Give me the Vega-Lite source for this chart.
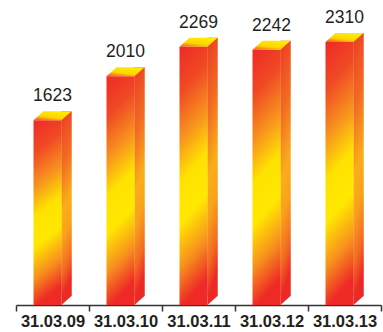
{
  "$schema": "https://vega.github.io/schema/vega-lite/v6.json",
  "width": 365,
  "height": 305,
  "autosize": "none",
  "padding": {"left": 16, "top": 0, "right": 2, "bottom": 27},
  "background": "white",
  "config": {"view": {"stroke": null}},
  "data": {
    "values": [
      {"date": "31.03.09", "value": 1623},
      {"date": "31.03.10", "value": 2010},
      {"date": "31.03.11", "value": 2269},
      {"date": "31.03.12", "value": 2242},
      {"date": "31.03.13", "value": 2310}
    ]
  },
  "encoding": {
    "x": {
      "field": "date",
      "type": "ordinal",
      "sort": null,
      "scale": {"paddingInner": 0, "paddingOuter": 0},
      "axis": {
        "title": null,
        "tickBand": "extent",
        "labelAngle": 0,
        "labelFont": "Liberation Sans",
        "labelFontWeight": "bold",
        "labelFontSize": 16.5,
        "labelColor": "#231F20",
        "labelPadding": 2,
        "domainColor": "#333333",
        "domainWidth": 1.5,
        "tickColor": "#333333",
        "tickWidth": 1.5,
        "tickSize": 6
      }
    },
    "y": {
      "field": "value",
      "type": "quantitative",
      "scale": {"domain": [0, 2680]},
      "axis": null
    }
  },
  "layer": [
    {
      "mark": {
        "type": "bar",
        "width": 10.5,
        "xOffset": 14,
        "yOffset": -9,
        "y2Offset": -9,
        "fill": {
          "gradient": "linear",
          "x1": 0, "y1": 0, "x2": 0.12, "y2": 1,
          "stops": [
            {"offset": 0, "color": "#EC3A25"},
            {"offset": 0.3, "color": "#F26B22"},
            {"offset": 0.55, "color": "#FAAE1A"},
            {"offset": 0.7, "color": "#F9A21B"},
            {"offset": 0.88, "color": "#F26A22"},
            {"offset": 1, "color": "#EC2A25"}
          ]
        }
      }
    },
    {
      "mark": {
        "type": "point",
        "shape": "M -1 0.9 L -1 -0.9 L 1 -0.9 Z",
        "size": 100,
        "filled": true,
        "opacity": 1,
        "strokeWidth": 0,
        "fill": "#EC2A25",
        "xOffset": 14,
        "yOffset": -4.5
      },
      "encoding": {"y": {"datum": 0, "type": "quantitative"}}
    },
    {
      "mark": {
        "type": "bar",
        "width": 28,
        "xOffset": -5,
        "fill": {
          "gradient": "linear",
          "x1": 0, "y1": 0, "x2": 0.12, "y2": 1,
          "stops": [
            {"offset": 0, "color": "#EE2A26"},
            {"offset": 0.18, "color": "#F04A24"},
            {"offset": 0.36, "color": "#F7931E"},
            {"offset": 0.52, "color": "#FFE200"},
            {"offset": 0.68, "color": "#FFE800"},
            {"offset": 0.85, "color": "#F7901E"},
            {"offset": 1, "color": "#EE2A26"}
          ]
        }
      }
    },
    {
      "mark": {
        "type": "point",
        "shape": "M -1 0.237 L -0.474 -0.237 L 1 -0.237 L 0.474 0.237 Z",
        "size": 1444,
        "filled": true,
        "opacity": 1,
        "strokeWidth": 0,
        "yOffset": -4.5,
        "fill": {
          "gradient": "linear",
          "x1": 0, "y1": 1, "x2": 0.55, "y2": 0,
          "stops": [
            {"offset": 0, "color": "#F04E24"},
            {"offset": 0.45, "color": "#FFD400"},
            {"offset": 1, "color": "#FFEB00"}
          ]
        }
      }
    },
    {
      "mark": {
        "type": "text",
        "baseline": "alphabetic",
        "dy": -19,
        "font": "Liberation Sans",
        "fontSize": 17.5,
        "fill": "#231F20"
      },
      "encoding": {"text": {"field": "value", "type": "quantitative"}}
    }
  ]
}
